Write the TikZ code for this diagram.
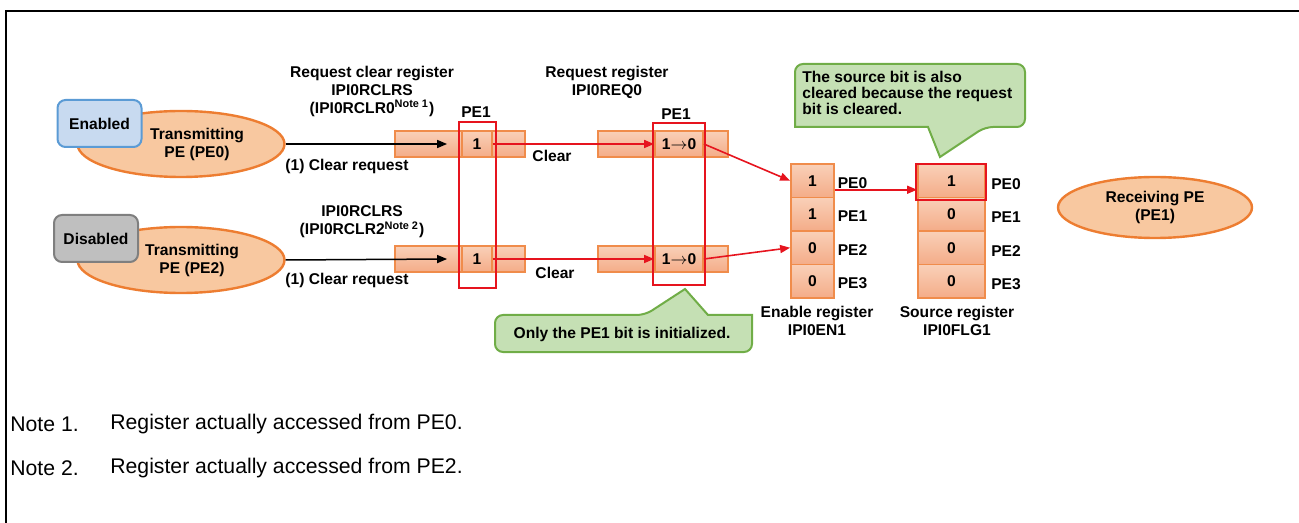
\documentclass[tikz,border=0pt]{standalone}
\usepackage{fontspec}
\setmainfont{Liberation Sans}
\usepackage{xcolor}
\usepackage{tikz}
\usetikzlibrary{shapes.geometric,arrows.meta}
\definecolor{peorange}{RGB}{237,125,49}
\definecolor{pefill}{RGB}{248,200,160}
\definecolor{regline}{RGB}{240,140,75}
\definecolor{regtop}{RGB}{249,208,184}
\definecolor{regbot}{RGB}{244,172,136}
\definecolor{markred}{RGB}{230,20,30}
\definecolor{notegreen}{RGB}{112,173,71}
\definecolor{notefill}{RGB}{197,224,180}
\definecolor{enblue}{RGB}{91,155,213}
\definecolor{enfill}{RGB}{200,218,240}
\definecolor{disgray}{RGB}{127,127,127}
\definecolor{disfill}{RGB}{191,191,191}

\begin{document}
\begin{tikzpicture}[x=0.5pt,y=-0.5pt, every node/.style={font=\fontsize{7.8}{9}\selectfont\bfseries, inner sep=0pt, align=center}]
  \tikzstyle{pe}=[ellipse, draw=peorange, line width=1.2pt, fill=pefill, minimum width=103.5pt, minimum height=33pt]
  \tikzstyle{statebox}=[rectangle, rounded corners=4pt, line width=1pt, minimum width=42pt, minimum height=23.5pt]
  \tikzstyle{regbar}=[rectangle, draw=regline, line width=0.9pt, top color=regtop, bottom color=regbot, minimum width=65pt, minimum height=13pt]
  \tikzstyle{pickbox}=[draw=markred, line width=1.1pt, minimum width=18.5pt, minimum height=83pt]
  \tikzstyle{clr}=[draw=markred, line width=0.8pt, -{Triangle[length=5pt,width=4pt]}]
  \tikzstyle{req}=[draw=black, line width=0.75pt, -{Triangle[length=5pt,width=4pt]}]
  \tikzstyle{calloutpath}=[draw=notegreen, line width=1pt, fill=notefill]
  \tikzstyle{note}=[font=\fontsize{10.6}{12}\selectfont, anchor=west]
  \useasboundingbox (0,0) rectangle (1299,523);
  \draw[line width=1.2pt] (6,523) -- (6,11) -- (1299,11);

  \node[pe, label={[xshift=8pt]center:Transmitting\\PE (PE0)}] (tx0) at (181,144) {};
  \node[statebox, draw=enblue, fill=enfill] (enabled) at (99.5,123.5) {Enabled};
  \node[pe, label={[xshift=5.5pt]center:Transmitting\\PE (PE2)}] (tx2) at (181,260) {};
  \node[statebox, draw=disgray, fill=disfill] (disabled) at (96,238.5) {Disabled};

  \node (rctitle) at (372,91) {Request clear register\\IPI0RCLRS\\(IPI0RCLR0\textsuperscript{Note 1})};
  \node (rc2title) at (362,222) {IPI0RCLRS\\(IPI0RCLR2\textsuperscript{Note 2})};
  \node (rqtitle) at (607,82) {Request register\\IPI0REQ0};

  \node[regbar] (rcb0) at (460,144) {};
  \node[regbar, minimum width=15pt] (rc0) at (477,144) {1};
  \node[regbar] (rcb2) at (460,259) {};
  \node[regbar, minimum width=15pt] (rc2) at (477,259) {1};
  \node[pickbox] (rcpick) at (477.5,205) {};
  \node (rcpe) at (476,112) {PE1};

  \node[regbar] (rqb0) at (663,144) {};
  \node[regbar, minimum width=24pt] (rq0) at (679,144) {1$\to$0};
  \node[regbar] (rqb2) at (663,259) {};
  \node[regbar, minimum width=24pt] (rq2) at (679,259) {1$\to$0};
  \node[pickbox, minimum width=26pt, minimum height=81pt] (rqpick) at (679,204) {};
  \node (rqpe) at (676,114) {PE1};

  \foreach \i/\v/\s in {0/1/1,1/1/0,2/0/0,3/0/0} {
    \node[regbar, minimum width=21.5pt, minimum height=16.75pt] (en\i) at (812.5,180.75+33.5*\i) {\v};
    \node (enl\i) at (852.5,182.75+33.5*\i) {PE\i};
    \node[regbar, minimum width=33.5pt, minimum height=16.75pt] (src\i) at (951.5,180.75+33.5*\i) {\s};
    \node (srcl\i) at (1006,183.75+33.5*\i) {PE\i};
  }
  \node[draw=markred, line width=1.3pt, minimum width=35pt, minimum height=18pt] (srcpick) at (951,182) {};
  \node (entitle) at (817,321) {Enable register\\IPI0EN1};
  \node (srctitle) at (957,321) {Source register\\IPI0FLG1};
  \node[pe, minimum width=97pt, minimum height=30.5pt] (rx) at (1155,207.5) {Receiving PE\\(PE1)};

  \draw[req] (tx0.east) -- ([xshift=-7pt]rc0.west);
  \draw[req] (tx2.east) -- ([xshift=-7pt]rc2.west);
  \node (req0) at (347,166) {(1) Clear request};
  \node (req2) at (347,280) {(1) Clear request};
  \draw[clr] (rc0.east) -- (rq0.west);
  \draw[clr] (rc2.east) -- (rq2.west);
  \node (clr0) at (552,156) {Clear};
  \node (clr2) at (555,273) {Clear};
  \draw[clr] (rq0.east) -- (en0.west);
  \draw[clr] (rq2.east) -- (en2.west);
  \draw[clr] ([yshift=-4.5pt]en0.east) -- ([yshift=-4.5pt]src0.west);

  \draw[calloutpath] (795,96) [rounded corners=4pt] -- (795,64) -- (1025,64) -- (1025,127) -- (985,127) [sharp corners] -- (940,157) -- (928,127) -- (795,127) [rounded corners=4pt] -- cycle;
  \node[anchor=west, align=left, font=\fontsize{7.8}{8}\selectfont\bfseries] (srcnote) at (802,93) {The source bit is also\\cleared because the request\\bit is cleared.};
  \draw[calloutpath] (495,334) [rounded corners=4pt] -- (495,315) -- (645,315) [sharp corners] -- (685,289) -- (708,315) -- (752,315) [rounded corners=4pt] -- (752,352) -- (495,352) -- cycle;
  \node (pe1note) at (622,334) {Only the PE1 bit is initialized.};

  \node[note] (n1) at (10,424) {Note 1.};
  \node[note] (n1t) at (110,424) {Register actually accessed from PE0.};
  \node[note] (n2) at (10,468) {Note 2.};
  \node[note] (n2t) at (110,468) {Register actually accessed from PE2.};
\end{tikzpicture}
\end{document}
